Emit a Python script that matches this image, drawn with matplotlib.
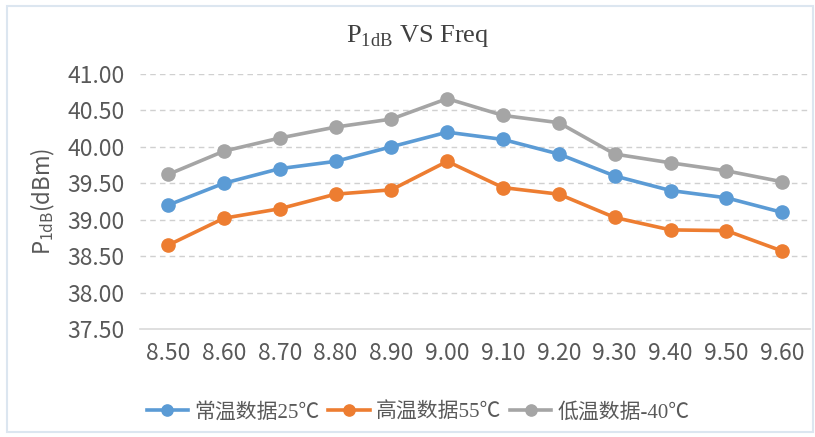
import matplotlib
matplotlib.use("Agg")
import matplotlib.pyplot as plt
from matplotlib.patches import Rectangle

freqs = ["8.50", "8.60", "8.70", "8.80", "8.90", "9.00", "9.10", "9.20", "9.30", "9.40", "9.50", "9.60"]
normal_25 = [39.20, 39.50, 39.70, 39.80, 40.00, 40.20, 40.10, 39.90, 39.60, 39.40, 39.30, 39.10]
high_55 = [38.65, 39.02, 39.15, 39.35, 39.41, 39.80, 39.44, 39.35, 39.03, 38.86, 38.85, 38.57]
low_m40 = [39.62, 39.94, 40.12, 40.27, 40.38, 40.66, 40.43, 40.33, 39.90, 39.78, 39.67, 39.52]
series_names = ["常温数据25℃", "高温数据55℃", "低温数据-40℃"]
colors = ["#5B9BD5", "#ED7D31", "#A5A5A5"]
yticks = [37.5, 38.0, 38.5, 39.0, 39.5, 40.0, 40.5, 41.0]

plt.rcParams['font.family'] = ['Noto Sans CJK SC', 'DejaVu Sans']

fig = plt.figure(figsize=(8.15, 4.37), dpi=100)
fig.patch.set_facecolor("white")
fig.add_artist(Rectangle((0.008, 0.012), 0.99, 0.975, transform=fig.transFigure,
                         fill=False, edgecolor="#DCE6F0", linewidth=1.5))

ax = fig.add_axes([0.172, 0.247, 0.822, 0.584])
x = list(range(len(freqs)))
for vals, name, c in zip([normal_25, high_55, low_m40], series_names, colors):
    ax.plot(x, vals, color=c, linewidth=2.6, marker="o", markersize=9.5, label=name)

ax.set_xlim(-0.5, len(freqs) - 0.5)
ax.set_ylim(37.5, 41.0)
ax.set_yticks(yticks)
ax.set_yticklabels([f"{v:.2f}" for v in yticks])
ax.set_xticks(x)
ax.set_xticklabels(freqs)
ax.tick_params(axis="both", length=0, labelsize=16.5, colors="#595959")
ax.tick_params(axis="x", pad=9)
ax.tick_params(axis="y", pad=11)
for v in yticks[1:]:
    ax.axhline(v, color="#D0D0D0", linewidth=1.0, linestyle=(0, (4, 3)), zorder=0)
for s in ["top", "right", "left"]:
    ax.spines[s].set_visible(False)
ax.spines["bottom"].set_color("#D9D9D9")
ax.spines["bottom"].set_linewidth(1.2)

ax.set_ylabel(r"P$_{\mathregular{1dB}}$(dBm)", fontsize=16, color="#595959", labelpad=8)

fig.text(0.512, 0.918, r"P$_{\mathregular{1dB}}$ VS Freq", ha="center", va="center",
         fontsize=19, family="Liberation Serif", color="#404040")

leg = ax.legend(loc="upper center", bbox_to_anchor=(0.415, -0.215), ncol=3, frameon=False,
                handlelength=2.0, columnspacing=0.4, handletextpad=0.3, markerscale=0.85,
                labelcolor="#595959",
                prop={"family": ["Liberation Serif", "Noto Sans CJK SC", "DejaVu Sans"], "size": 15})

fig.savefig("out.png", dpi=100, facecolor="white")
